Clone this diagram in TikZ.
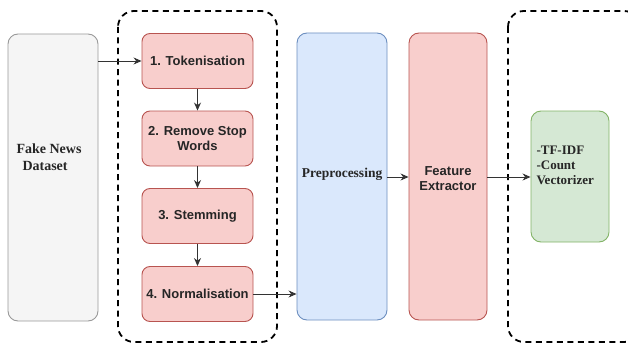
\documentclass[tikz,border=0pt]{standalone}
\usepackage{fontspec}
\setmainfont{Liberation Serif}
\newfontfamily\arialf{Liberation Sans}
\usetikzlibrary{arrows.meta}
\definecolor{grayfill}{HTML}{F5F5F5}
\definecolor{graydraw}{HTML}{999999}
\definecolor{bluefill}{HTML}{DAE8FC}
\definecolor{bluedraw}{HTML}{6C8EBF}
\definecolor{redfill}{HTML}{F8CECC}
\definecolor{reddraw}{HTML}{B85450}
\definecolor{greenfill}{HTML}{D5E8D4}
\definecolor{greendraw}{HTML}{82B366}
\begin{document}
\begin{tikzpicture}[x=1pt,y=-1pt,
  box/.style={draw, line width=0.9pt, rounded corners=10pt},
  stepbox/.style={draw=reddraw, fill=redfill, line width=0.9pt, rounded corners=8pt},
  grp/.style={draw=black, line width=1.8pt, dash pattern=on 6pt off 4.5pt, rounded corners=16pt},
  arr/.style={-{Stealth[length=8pt,width=7pt]}, line width=0.9pt, draw=black!80},
  sanslbl/.style={font=\arialf\bfseries\fontsize{13}{15}\selectfont, text=black!85, align=center},
  seriflbl/.style={font=\bfseries\fontsize{13.5}{16}\selectfont, text=black!85}]
\useasboundingbox (0,0) rectangle (628,345);
% groups
\draw[grp] (118,11) rectangle (277,342);
\draw[grp] (508,11) rectangle (640,342);
% fake news
\draw[box, draw=graydraw, fill=grayfill] (8,34) rectangle (98,321);
\node[seriflbl, align=left, anchor=west, font=\bfseries\fontsize{14}{17}\selectfont] (fn) at (13,157) {Fake News\\\hspace{6pt}Dataset};
\coordinate (fnout) at (98,61);
% steps
\node[stepbox, minimum width=111pt, minimum height=55pt, sanslbl] (s1) at (197.5,61) {1. Tokenisation};
\node[stepbox, minimum width=111pt, minimum height=55pt, sanslbl] (s2) at (197.5,138.5) {2. Remove Stop\\Words};
\node[stepbox, minimum width=111pt, minimum height=55pt, sanslbl] (s3) at (197.5,216) {3. Stemming};
\node[stepbox, minimum width=111pt, minimum height=55pt, sanslbl] (s4) at (197.5,294) {4. Normalisation};
% big boxes
\node[box, draw=bluedraw, fill=bluefill, minimum width=90pt, minimum height=287pt] (pre) at (342,176.5) {};
\node[seriflbl] at (342,174) {Preprocessing};
\node[box, draw=reddraw, fill=redfill, minimum width=78pt, minimum height=287pt] (fe) at (448,176.5) {};
\node[sanslbl] at (448,179) {Feature\\Extractor};
\node[box, draw=greendraw, fill=greenfill, minimum width=78pt, minimum height=131pt] (vec) at (570,176.5) {};
\node[seriflbl, align=left, anchor=west, font=\bfseries\fontsize{13}{15}\selectfont] (vt) at (533,165) {-TF-IDF\\-Count\\Vectorizer};
% arrows
\draw[arr] (fnout) -- (s1.west);
\draw[arr] (s1) -- (s2);
\draw[arr] (s2) -- (s3);
\draw[arr] (s3) -- (s4);
\draw[arr] (s4.east) -- (pre.west |- s4.east);
\draw[arr] (pre.east |- 0,177) -- (fe.west |- 0,177);
\draw[arr] (fe.east |- 0,177) -- (vec.west |- 0,177);
\end{tikzpicture}
\end{document}
